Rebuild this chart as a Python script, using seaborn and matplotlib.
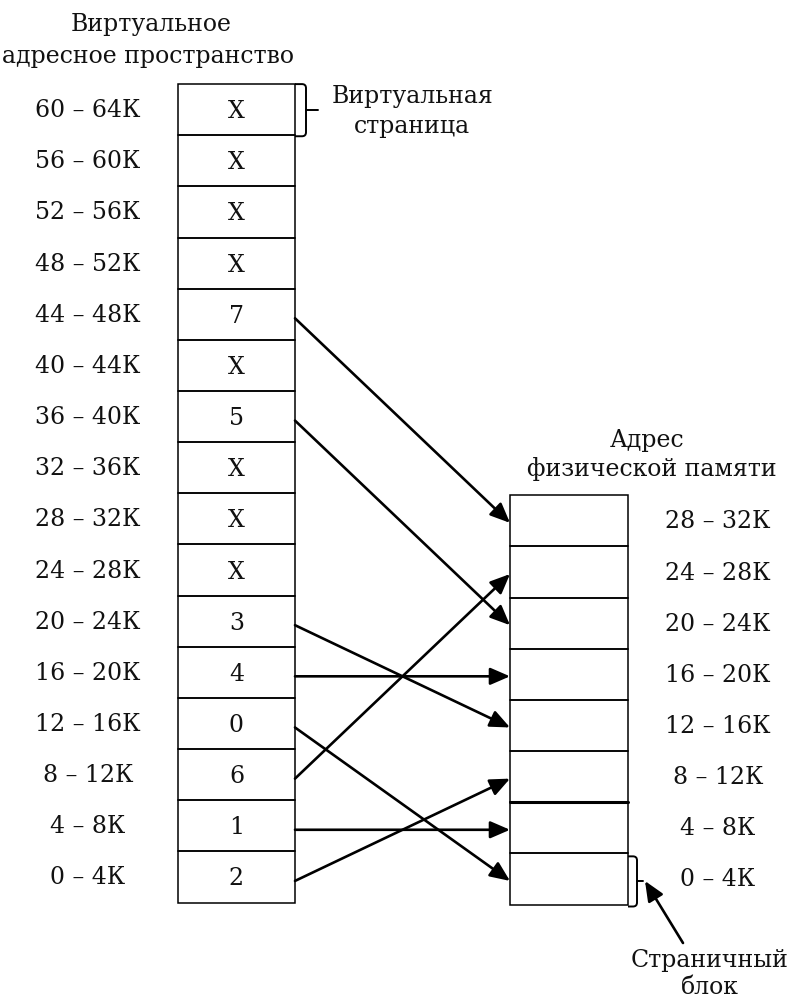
import matplotlib
matplotlib.use("Agg")
import matplotlib.pyplot as plt
import seaborn as sns
from matplotlib.patches import Rectangle, PathPatch
from matplotlib.path import Path

# ---------------- data ----------------
virtual_ranges = ["0 – 4К", "4 – 8К", "8 – 12К", "12 – 16К", "16 – 20К", "20 – 24К",
                  "24 – 28К", "28 – 32К", "32 – 36К", "36 – 40К", "40 – 44К", "44 – 48К",
                  "48 – 52К", "52 – 56К", "56 – 60К", "60 – 64К"]
virtual_pages = ["2", "1", "6", "0", "4", "3", "X", "X", "X", "5", "X", "7", "X", "X", "X", "X"]
physical_ranges = ["0 – 4К", "4 – 8К", "8 – 12К", "12 – 16К", "16 – 20К", "20 – 24К",
                   "24 – 28К", "28 – 32К"]
title_virtual = ["Виртуальное", "адресное пространство"]
title_physical = ["Адрес", "физической памяти"]
label_page = ["Виртуальная", "страница"]
label_frame = ["Страничный", "блок"]

# ---------------- style ----------------
sns.set_theme(style="white")
plt.rcParams["font.family"] = ["DejaVu Serif", "DejaVu Sans"]
FS = 17
LW_BOX = 1.1
LW_ARR = 1.9
ARROW = "-|>,head_length=0.6,head_width=0.26"

fig = plt.figure(figsize=(7.88, 10), dpi=100)
ax = fig.add_axes([0, 0, 1, 1])
ax.set_xlim(0, 788)
ax.set_ylim(1000, 0)
ax.axis("off")

ROW_H = 51.15
V_BOTTOM = 902.5
V_LEFT, V_RIGHT = 178, 295
P_BOTTOM = 904.5
P_LEFT, P_RIGHT = 510, 628


def v_row(i):
    return V_BOTTOM - (i + 1) * ROW_H, V_BOTTOM - i * ROW_H


def p_row(i):
    return P_BOTTOM - (i + 1) * ROW_H, P_BOTTOM - i * ROW_H


# virtual column
for i, (rng, page) in enumerate(zip(virtual_ranges, virtual_pages)):
    top, bot = v_row(i)
    ax.add_patch(Rectangle((V_LEFT, top), V_RIGHT - V_LEFT, ROW_H, fill=False,
                           edgecolor="black", lw=LW_BOX))
    cy = (top + bot) / 2
    ax.text(88, cy + 1, rng, ha="center", va="center", fontsize=FS, color="#111111")
    ax.text((V_LEFT + V_RIGHT) / 2, cy + 2, page, ha="center", va="center",
            fontsize=FS, color="#111111")

# physical column
for i, rng in enumerate(physical_ranges):
    top, bot = p_row(i)
    ax.add_patch(Rectangle((P_LEFT, top), P_RIGHT - P_LEFT, ROW_H, fill=False,
                           edgecolor="black", lw=LW_BOX))
    if i == 1:
        ax.plot([P_LEFT, P_RIGHT], [top, top], color="black", lw=2.2)
    cy = (top + bot) / 2
    ax.text(718, cy + 1, rng, ha="center", va="center", fontsize=FS, color="#111111")

# mapping arrows
for i, page in enumerate(virtual_pages):
    if page == "X":
        continue
    frame = int(page)
    vt, vb = v_row(i)
    pt, pb = p_row(frame)
    y0 = (vt + vb) / 2 + 4
    y1 = (pt + pb) / 2 + 2
    ax.annotate("", xy=(P_LEFT, y1), xytext=(V_RIGHT, y0),
                arrowprops=dict(arrowstyle=ARROW, mutation_scale=20, lw=LW_ARR,
                                color="black", shrinkA=0, shrinkB=0))

# titles
ax.text(151, 25, title_virtual[0], ha="center", va="center", fontsize=FS, color="#111111")
ax.text(148, 56, title_virtual[1], ha="center", va="center", fontsize=FS, color="#111111")
ax.text(647, 440, title_physical[0], ha="center", va="center", fontsize=FS, color="#111111")
ax.text(652, 469, title_physical[1], ha="center", va="center", fontsize=FS, color="#111111")


def brace(x0, xv, xt, top, bot, r=4):
    mid = (top + bot) / 2
    verts = [(x0, top), (xv - r, top), (xv, top), (xv, top + r),
             (xv, bot - r), (xv, bot), (xv - r, bot), (x0, bot)]
    codes = [Path.MOVETO, Path.LINETO, Path.CURVE3, Path.CURVE3,
             Path.LINETO, Path.CURVE3, Path.CURVE3, Path.LINETO]
    ax.add_patch(PathPatch(Path(verts, codes), fill=False, edgecolor="black", lw=1.4))
    ax.plot([xv, xt], [mid, mid], color="black", lw=1.4)


# virtual page brace
vt, vb = v_row(len(virtual_pages) - 1)
brace(V_RIGHT, 306, 318, vt, vb + 1)
ax.text(413, 96, label_page[0], ha="center", va="center", fontsize=FS, color="#111111")
ax.text(412, 126, label_page[1], ha="center", va="center", fontsize=FS, color="#111111")

# page frame brace
pt, pb = p_row(0)
brace(P_RIGHT, 637, 643, pt + 3, pb + 2)
ax.annotate("", xy=(645, 881), xytext=(683, 943),
            arrowprops=dict(arrowstyle=ARROW, mutation_scale=20, lw=LW_ARR,
                            color="black", shrinkA=0, shrinkB=0))
ax.text(710, 960, label_frame[0], ha="center", va="center", fontsize=FS, color="#111111")
ax.text(710, 988, label_frame[1], ha="center", va="center", fontsize=FS, color="#111111")

fig.savefig("out.png", dpi=100, facecolor="white")
